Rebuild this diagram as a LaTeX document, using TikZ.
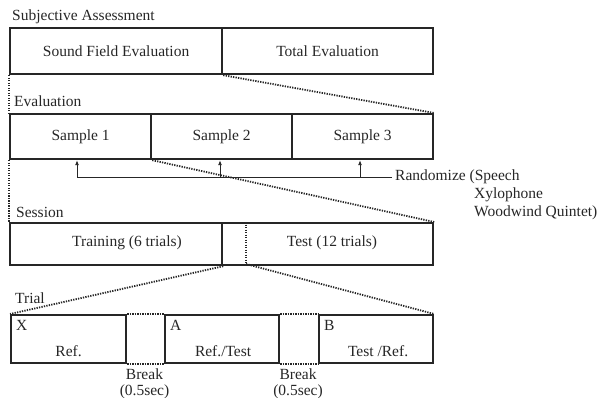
\documentclass[tikz,border=0pt]{standalone}
\usepackage{fontspec}
\setmainfont{Liberation Serif}
\usetikzlibrary{calc,arrows.meta}
\begin{document}
\begin{tikzpicture}[x=1pt,y=-1pt,
  every node/.style={text=black!85},
  cell/.style={draw=black!85, line width=2.2pt, anchor=north west, inner sep=0pt, font=\fontsize{15.5}{18}\selectfont},
  txt/.style={inner sep=0pt, font=\fontsize{15.5}{16}\selectfont},
  lbl/.style={txt, anchor=base west},
  dots/.style={draw=black!85, line width=1.8pt, dash pattern=on 1.3pt off 1.2pt},
  rarrow/.style={draw=black!85, line width=0.9pt, -{Latex[length=5pt,width=4pt]}},
  rline/.style={draw=black!85, line width=0.9pt}]
\useasboundingbox (0,0) rectangle (607,398);

% Subjective Assessment
\node[lbl] (lsa) at (12,21) {Subjective Assessment};
\node[cell, minimum width=212pt, minimum height=46pt] (sfe) at (9,27) {Sound Field Evaluation};
\node[cell, minimum width=211pt, minimum height=46pt] (tot) at (221,27) {Total Evaluation};

% Evaluation
\node[lbl] (lev) at (14,107) {Evaluation};
\node[cell, minimum width=141pt, minimum height=45pt] (s1) at (9,113) {Sample 1};
\node[cell, minimum width=141pt, minimum height=45pt] (s2) at (150,113) {Sample 2};
\node[cell, minimum width=141pt, minimum height=45pt] (s3) at (291,113) {Sample 3};

\draw[dots] (sfe.south west) -- (s1.north west);
\draw[dots] (sfe.south east) -- (s3.north east);

% Randomize
\node[txt, anchor=west] (rnd) at (395,177) {Randomize (Speech};
\node[txt, anchor=west] (xyl) at (474,195) {Xylophone};
\node[txt, anchor=west] (wwq) at (474,213) {Woodwind Quintet)};
\coordinate (r1) at (77,177);
\coordinate (r2) at (220,177);
\coordinate (r3) at (360,177);
\draw[rline] ($(rnd.west)+(-3,0)$) -- (r1);
\draw[rarrow] (r1) -- (r1 |- s1.south);
\draw[rarrow] (r2) -- (r2 |- s2.south);
\draw[rarrow] (r3) -- (r3 |- s3.south);

% Session
\node[lbl] (lse) at (16,217) {Session};
\node[cell, minimum width=212pt, minimum height=42pt] (tr) at (9,222) {};
\node[cell, minimum width=211pt, minimum height=42pt] (te) at (221,222) {};
\node[txt] (trt) at (127,243) {Training (6 trials)};
\node[txt] (tet) at (332,243) {Test (12 trials)};
\coordinate (sd1) at (246,222);
\coordinate (sd2) at (246,264);
\draw[dots] (sd1) -- (sd2);

\draw[dots] (s1.south west) -- (tr.north west);
\draw[dots] (s1.south east) -- (te.north east);

% Trial
\node[lbl] (ltr) at (15,303) {Trial};
\node[cell, minimum width=115pt, minimum height=48pt] (tx) at (10,314) {};
\node[cell, minimum width=114pt, minimum height=48pt] (ta) at (164,314) {};
\node[cell, minimum width=114pt, minimum height=48pt] (tb) at (318,314) {};
\node[txt, anchor=west] (xl) at (16,325) {X};
\node[txt, anchor=west] (al) at (170,325) {A};
\node[txt, anchor=west] (bl) at (324,325) {B};
\node[txt] (xr) at ($(tx.center)+(0,12)$) {Ref.};
\node[txt] (ar) at ($(ta.center)+(1,12)$) {Ref./Test};
\node[txt] (br) at ($(tb.center)+(2,12)$) {Test /Ref.};

\draw[dots] (tx.north east) -- (ta.north west);
\draw[dots] (tx.south east) -- (ta.south west);
\draw[dots] (ta.north east) -- (tb.north west);
\draw[dots] (ta.south east) -- (tb.south west);

\node[txt, align=center] (b1) at (144.5,384) {Break\\(0.5sec)};
\node[txt, align=center] (b2) at (298,384) {Break\\(0.5sec)};

\draw[dots] (tr.south east) -- (tx.north west);
\draw[dots] (sd2) -- (tb.north east);
\end{tikzpicture}
\end{document}
